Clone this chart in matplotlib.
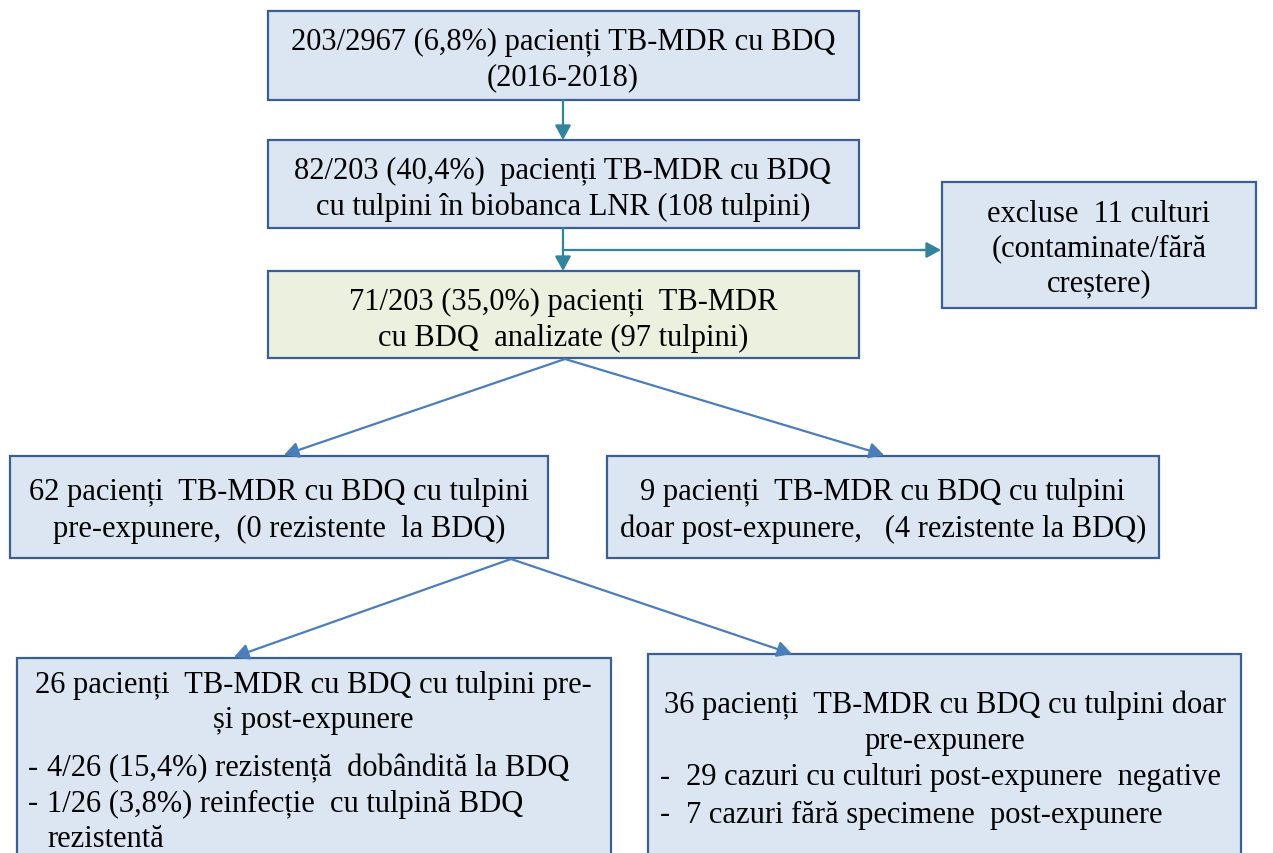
import matplotlib
matplotlib.use("Agg")
import matplotlib.pyplot as plt
from matplotlib.patches import Rectangle, FancyArrowPatch

W, H = 1273, 854
FS = 22
FONT = ["Liberation Serif", "DejaVu Serif"]
DY = 2  # small vertical offset of text baseline

# Box texts (one list of lines per box)
box1_lines = ["203/2967 (6,8%) pacienți TB-MDR cu BDQ", "(2016-2018)"]
box2_lines = ["82/203 (40,4%)  pacienți TB-MDR cu BDQ", "cu tulpini în biobanca LNR (108 tulpini)"]
box3_lines = ["71/203 (35,0%) pacienți  TB-MDR", "cu BDQ  analizate (97 tulpini)"]
excl_lines = ["excluse  11 culturi", "(contaminate/fără", "creștere)"]
box4_lines = ["62 pacienți  TB-MDR cu BDQ cu tulpini", "pre-expunere,  (0 rezistente  la BDQ)"]
box5_lines = ["9 pacienți  TB-MDR cu BDQ cu tulpini", "doar post-expunere,   (4 rezistente la BDQ)"]
box6_head = ["26 pacienți  TB-MDR cu BDQ cu tulpini pre-", "și post-expunere"]
box6_bullets = ["4/26 (15,4%) rezistență  dobândită la BDQ", "1/26 (3,8%) reinfecție  cu tulpină BDQ", "rezistentă"]
box7_head = ["36 pacienți  TB-MDR cu BDQ cu tulpini doar", "pre-expunere"]
box7_bullets = ["29 cazuri cu culturi post-expunere  negative", "7 cazuri fără specimene  post-expunere"]

BLUE_FILL = "#DCE6F2"
GREEN_FILL = "#EBF1DE"
EDGE = "#3A5F96"
TEAL = "#31849B"
ARROW_BLUE = "#4A7EBB"

fig = plt.figure(figsize=(W / 100, H / 100), dpi=100)
ax = fig.add_axes([0, 0, 1, 1])
ax.set_xlim(0, W)
ax.set_ylim(H, 0)
ax.axis("off")

def box(x0, y0, x1, y1, fill):
    ax.add_patch(Rectangle((x0, y0), x1 - x0, y1 - y0, facecolor=fill,
                           edgecolor=EDGE, linewidth=1.6, zorder=2))

def ctext(x, y, s):
    ax.text(x, y + DY, s, ha="center", va="center", fontsize=FS, family=FONT,
            color="black", zorder=3)

def ltext(x, y, s):
    ax.text(x, y + DY, s, ha="left", va="center", fontsize=FS, family=FONT,
            color="black", zorder=3)

def lines_centered(cx, ys, lines):
    for y, s in zip(ys, lines):
        ctext(cx, y, s)

box(268, 12, 859, 101, BLUE_FILL)
lines_centered(563, [40, 76], box1_lines)
box(268, 141, 859, 229, BLUE_FILL)
lines_centered(563, [169, 205], box2_lines)
box(268, 272, 859, 359, GREEN_FILL)
lines_centered(563, [300, 336], box3_lines)
box(942, 183, 1256, 309, BLUE_FILL)
lines_centered(1099, [212, 247, 282], excl_lines)
box(10, 457, 548, 559, BLUE_FILL)
lines_centered(279, [491, 527], box4_lines)
box(607, 457, 1159, 559, BLUE_FILL)
lines_centered(883, [491, 527], box5_lines)

box(17, 659, 611, 880, BLUE_FILL)
lines_centered(313, [684, 719], box6_head)
for i, (y, s) in enumerate(zip([767, 802, 838], box6_bullets)):
    if i < 2:
        ltext(28, y, "-")
    ltext(47, y, s)

box(648, 655, 1241, 880, BLUE_FILL)
lines_centered(945, [703, 740], box7_head)
for y, s in zip([776, 813], box7_bullets):
    ltext(660, y, "-")
    ltext(686, y, s)

def arrow(p0, p1, color, lw=1.6):
    ax.add_patch(FancyArrowPatch(p0, p1, arrowstyle="-|>,head_length=5.5,head_width=3",
                                 color=color, linewidth=lw, shrinkA=0, shrinkB=0,
                                 mutation_scale=1.6, zorder=4))

arrow((563, 101), (563, 141), TEAL)
arrow((563, 229), (563, 272), TEAL)
ax.plot([563, 930], [251, 251], color=TEAL, linewidth=1.6, zorder=4)
arrow((920, 251), (941, 251), TEAL)

arrow((565, 360), (284, 456), ARROW_BLUE)
arrow((565, 360), (884, 456), ARROW_BLUE)
arrow((511, 560), (234, 658), ARROW_BLUE)
arrow((511, 560), (792, 655), ARROW_BLUE)

fig.savefig("out.png", dpi=100)
